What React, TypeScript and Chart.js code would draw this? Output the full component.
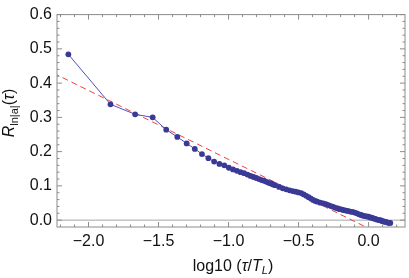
import React, { useEffect, useRef } from "react";
import { Chart, registerables } from "chart.js";

Chart.register(...registerables);

// log10(tau/T_L) positions of the measured points
const xValues = [
  -2.144, -1.843, -1.667, -1.542, -1.445, -1.366, -1.299, -1.241, -1.19, -1.144,
  -1.103, -1.065, -1.03, -0.998, -0.968, -0.94, -0.914, -0.889, -0.865, -0.843,
  -0.822, -0.802, -0.782, -0.764, -0.746, -0.729, -0.713, -0.697, -0.682, -0.667,
  -0.639, -0.613, -0.588, -0.564, -0.542, -0.521, -0.501, -0.481, -0.463, -0.445,
  -0.428, -0.412, -0.396, -0.381, -0.366, -0.345, -0.324, -0.305, -0.287, -0.269,
  -0.252, -0.236, -0.22, -0.204, -0.19, -0.176, -0.162, -0.148, -0.131, -0.115,
  -0.099, -0.083, -0.068, -0.054, -0.04, -0.027, -0.014, -0.001, 0.011, 0.023,
  0.035, 0.046, 0.057, 0.068, 0.079, 0.089, 0.099, 0.109, 0.118, 0.128,
  0.137, 0.146, 0.155,
];

// R_{ln|a|}(tau) values of the measured points
const yValues = [
  0.484, 0.338, 0.309, 0.3, 0.264, 0.243, 0.224, 0.208, 0.193, 0.181,
  0.171, 0.164, 0.16, 0.153, 0.148, 0.144, 0.14, 0.137, 0.133, 0.129,
  0.126, 0.123, 0.12, 0.117, 0.115, 0.112, 0.109, 0.107, 0.104, 0.102,
  0.097, 0.093, 0.09, 0.087, 0.085, 0.083, 0.081, 0.079, 0.075, 0.071,
  0.067, 0.063, 0.059, 0.056, 0.054, 0.051, 0.049, 0.047, 0.044, 0.041,
  0.039, 0.036, 0.034, 0.032, 0.031, 0.029, 0.028, 0.027, 0.025, 0.024,
  0.022, 0.02, 0.017, 0.015, 0.013, 0.012, 0.011, 0.01, 0.008, 0.007,
  0.005, 0.004, 0.002, 0.001, 0.0, -0.001, -0.003, -0.004, -0.005, -0.006,
  -0.007, -0.008, -0.008,
];

// red dashed linear fit (end points)
const fitX = [-2.25, 0.05];
const fitY = [0.429, -0.034];

const xTicks = [-2.0, -1.5, -1.0, -0.5, 0.0];
const xMinorTicks = [-2.2, -2.1, -1.9, -1.8, -1.7, -1.6, -1.4, -1.3, -1.2, -1.1, -0.9, -0.8, -0.7, -0.6, -0.4, -0.3, -0.2, -0.1, 0.1, 0.2];
const yTicks = [0.0, 0.1, 0.2, 0.3, 0.4, 0.5, 0.6];
const yMinorTicks = [0.02, 0.04, 0.06, 0.08, 0.12, 0.14, 0.16, 0.18, 0.22, 0.24, 0.26, 0.28, 0.32, 0.34, 0.36, 0.38, 0.42, 0.44, 0.46, 0.48, 0.52, 0.54, 0.56, 0.58];

const FONT = "'Liberation Sans', Arial, Helvetica, sans-serif";

const fmt = (v: number) => {
  const s = Math.abs(v).toFixed(1);
  return v < -1e-9 ? "\u2212" + s : s;
};

type Part = { text: string; font: string; dy: number };

function drawRich(ctx: CanvasRenderingContext2D, parts: Part[], cx: number, baseY: number) {
  let total = 0;
  const widths = parts.map((p) => {
    ctx.font = p.font;
    const w = ctx.measureText(p.text).width;
    total += w;
    return w;
  });
  let x = cx - total / 2;
  ctx.textAlign = "left";
  ctx.textBaseline = "alphabetic";
  parts.forEach((p, i) => {
    ctx.font = p.font;
    ctx.fillText(p.text, x, baseY + p.dy);
    x += widths[i];
  });
}

const framePlugin = {
  id: "frameTicks",
  beforeDatasetsDraw(chart: any) {
    const { ctx, chartArea, scales } = chart;
    const y0 = scales.y.getPixelForValue(0);
    ctx.save();
    ctx.strokeStyle = "rgb(165,165,165)";
    ctx.lineWidth = 1;
    ctx.beginPath();
    ctx.moveTo(chartArea.left, y0);
    ctx.lineTo(chartArea.right, y0);
    ctx.stroke();
    ctx.restore();
  },
  afterDatasetsDraw(chart: any) {
    const { ctx, chartArea, scales } = chart;
    const { left, right, top, bottom } = chartArea;
    ctx.save();
    ctx.strokeStyle = "rgb(140,140,140)";
    ctx.lineWidth = 1;
    ctx.strokeRect(left, top, right - left, bottom - top);
    ctx.beginPath();
    const xt = (vals: number[], len: number) => {
      vals.forEach((v) => {
        const px = scales.x.getPixelForValue(v);
        ctx.moveTo(px, bottom);
        ctx.lineTo(px, bottom - len);
        ctx.moveTo(px, top);
        ctx.lineTo(px, top + len);
      });
    };
    const yt = (vals: number[], len: number) => {
      vals.forEach((v) => {
        const py = scales.y.getPixelForValue(v);
        ctx.moveTo(left, py);
        ctx.lineTo(left + len, py);
        ctx.moveTo(right, py);
        ctx.lineTo(right - len, py);
      });
    };
    xt(xTicks, 5);
    xt(xMinorTicks, 2.5);
    yt(yTicks, 5);
    yt(yMinorTicks, 2.5);
    ctx.stroke();
    ctx.restore();
  },
  afterDraw(chart: any) {
    const { ctx, chartArea } = chart;
    ctx.save();
    ctx.fillStyle = "#111";
    const reg = `16px ${FONT}`;
    const ita = `italic 16px ${FONT}`;
    const sub = `italic 11px ${FONT}`;
    const cx = (chartArea.left + chartArea.right) / 2;
    drawRich(
      ctx,
      [
        { text: "log10 (", font: reg, dy: 0 },
        { text: "\u03C4", font: ita, dy: 0 },
        { text: "/", font: reg, dy: 0 },
        { text: "T", font: ita, dy: 0 },
        { text: "L", font: sub, dy: 3 },
        { text: ")", font: reg, dy: 0 },
      ],
      cx + 2,
      271
    );
    ctx.translate(14, 113);
    ctx.rotate(-Math.PI / 2);
    drawRich(
      ctx,
      [
        { text: "R", font: ita, dy: 0 },
        { text: "ln|a|", font: `11px ${FONT}`, dy: 3.5 },
        { text: "(", font: reg, dy: 0 },
        { text: "\u03C4", font: ita, dy: 0 },
        { text: ")", font: reg, dy: 0 },
      ],
      0,
      0
    );
    ctx.restore();
  },
};

export default function App() {
  const ref = useRef<HTMLCanvasElement | null>(null);
  useEffect(() => {
    if (!ref.current) return;
    const chart = new Chart(ref.current, {
      type: "scatter",
      data: {
        datasets: [
          {
            label: "data",
            data: xValues.map((x, i) => ({ x, y: yValues[i] })),
            showLine: true,
            borderColor: "rgb(80,80,185)",
            borderWidth: 1,
            backgroundColor: "rgb(58,58,150)",
            pointBackgroundColor: "rgb(58,58,150)",
            pointBorderWidth: 0,
            pointRadius: 2.9,
            order: 1,
          },
          {
            label: "fit",
            data: fitX.map((x, i) => ({ x, y: fitY[i] })),
            showLine: true,
            borderColor: "rgba(240,30,30,0.85)",
            borderWidth: 1,
            borderDash: [6, 4],
            pointRadius: 0,
            order: 2,
          },
        ],
      },
      options: {
        animation: false,
        responsive: false,
        devicePixelRatio: 1,
        layout: { padding: { top: 10, right: 3, left: 0, bottom: 0 } },
        plugins: { legend: { display: false }, tooltip: { enabled: false } },
        scales: {
          x: {
            type: "linear",
            min: -2.225,
            max: 0.26,
            grid: { display: false, drawTicks: false },
            border: { display: false },
            afterBuildTicks: (s: any) => {
              s.ticks = xTicks.map((v) => ({ value: v }));
            },
            afterFit: (s: any) => {
              s.height = 51;
            },
            ticks: {
              padding: 5,
              maxRotation: 0,
              autoSkip: false,
              color: "#111",
              font: { family: FONT, size: 16 },
              callback: (v: any) => fmt(Number(v)),
            },
          },
          y: {
            type: "linear",
            min: -0.02,
            max: 0.6,
            grid: { display: false, drawTicks: false },
            border: { display: false },
            afterBuildTicks: (s: any) => {
              s.ticks = yTicks.map((v) => ({ value: v }));
            },
            afterFit: (s: any) => {
              s.width = 57;
            },
            ticks: {
              padding: 5,
              autoSkip: false,
              color: "#111",
              font: { family: FONT, size: 16 },
              callback: (v: any) => fmt(Number(v)),
            },
          },
        },
      },
      plugins: [framePlugin],
    } as any);
    return () => chart.destroy();
  }, []);
  return (
    <div style={{ position: "fixed", left: 0, top: 0, width: 409, height: 278, background: "#fff" }}>
      <canvas ref={ref} width={409} height={278} style={{ display: "block" }} />
    </div>
  );
}
